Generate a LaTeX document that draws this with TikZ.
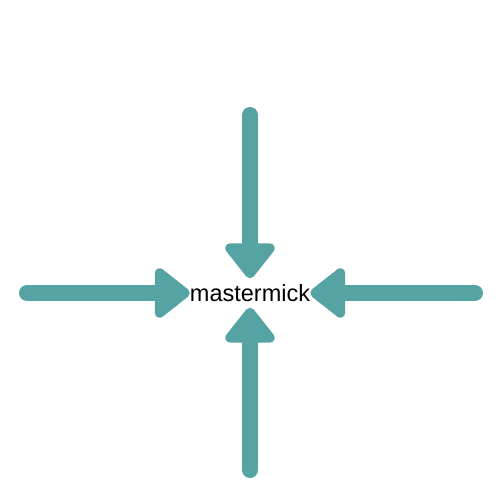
\documentclass[tikz,border=0pt]{standalone}
\usepackage{fontspec}
\setmainfont{Liberation Sans}
\usetikzlibrary{arrows.meta}
\definecolor{teal1}{HTML}{55A3A3}
\begin{document}
\begin{tikzpicture}[x=1pt,y=-1pt,
  conn/.style={draw=teal1,fill=teal1,line width=16pt,line cap=round,
    -{Triangle[length=38pt,width=57pt,round]}}]
\useasboundingbox (0,0) rectangle (500,500);
\node[font=\fontsize{23.5pt}{28pt}\selectfont,inner sep=0pt,minimum height=29pt] (m) at (250,293) {mastermick};
\coordinate (t) at (250,115);
\coordinate (b) at (250,470);
\coordinate (l) at (27,293);
\coordinate (r) at (475,293);
\draw[conn] (t) -- (m);
\draw[conn] (b) -- (m);
\draw[conn] (l) -- (m);
\draw[conn] (r) -- (m);
\end{tikzpicture}
\end{document}
